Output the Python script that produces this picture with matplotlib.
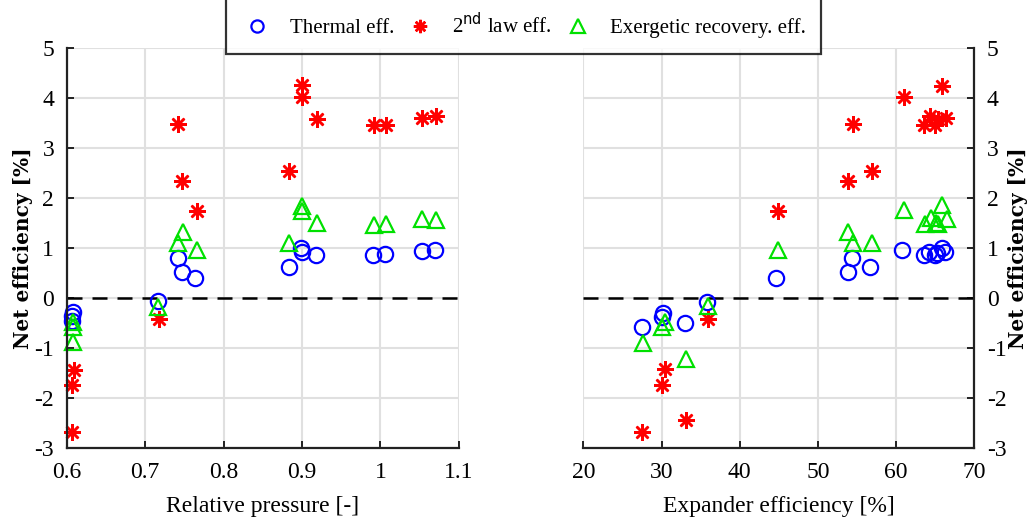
import numpy as np
import matplotlib
matplotlib.use('Agg')
import matplotlib.pyplot as plt

# Relative pressure panel
rp_thermal_x = [0.742, 0.747, 0.764, 0.883, 0.899, 0.900, 0.918, 0.991, 1.006, 1.053, 1.070,
                0.717, 0.608, 0.607, 0.607]
rp_thermal_y = [0.80, 0.53, 0.40, 0.63, 1.00, 0.93, 0.87, 0.87, 0.88, 0.95, 0.96,
                -0.05, -0.28, -0.35, -0.45]
rp_second_x = [0.742, 0.747, 0.766, 0.900, 0.900, 0.919, 0.884, 0.992, 1.007, 1.053, 1.071,
               0.718, 0.609, 0.607, 0.607]
rp_second_y = [3.48, 2.35, 1.75, 4.27, 4.03, 3.59, 2.55, 3.47, 3.47, 3.61, 3.65,
               -0.42, -1.43, -1.73, -2.67]
rp_exerg_x = [0.748, 0.742, 0.766, 0.900, 0.900, 0.919, 0.992, 1.007, 1.053, 1.071, 0.884,
              0.717, 0.608, 0.608, 0.608]
rp_exerg_y = [1.33, 1.10, 0.97, 1.85, 1.75, 1.51, 1.47, 1.48, 1.59, 1.57, 1.11,
              -0.17, -0.47, -0.57, -0.87]

# Expander efficiency panel
ee_thermal_x = [60.8, 63.5, 64.2, 65.0, 65.2, 65.8, 66.3, 54.4, 53.8, 56.7, 44.7,
                35.8, 30.2, 30.1, 33.0, 27.5]
ee_thermal_y = [0.97, 0.87, 0.93, 0.87, 0.90, 1.00, 0.93, 0.80, 0.52, 0.63, 0.41,
                -0.07, -0.29, -0.37, -0.50, -0.58]
ee_second_x = [65.9, 61.0, 54.5, 63.6, 64.3, 65.0, 65.3, 66.4, 53.9, 56.9, 44.9,
               35.9, 30.4, 30.1, 33.1, 27.5]
ee_second_y = [4.25, 4.03, 3.48, 3.47, 3.65, 3.47, 3.58, 3.61, 2.35, 2.55, 1.75,
               -0.41, -1.42, -1.73, -2.43, -2.67]
ee_exerg_x = [61.0, 65.9, 66.5, 63.7, 64.4, 65.1, 65.4, 53.9, 54.5, 56.9, 44.9,
              36.0, 30.4, 30.1, 27.6, 33.1]
ee_exerg_y = [1.77, 1.87, 1.58, 1.48, 1.60, 1.51, 1.48, 1.33, 1.10, 1.11, 0.97,
              -0.15, -0.47, -0.57, -0.89, -1.22]

y_ticks = [-3, -2, -1, 0, 1, 2, 3, 4, 5]
rp_ticks = [0.6, 0.7, 0.8, 0.9, 1.0, 1.1]
rp_ticklabels = ['0.6', '0.7', '0.8', '0.9', '1', '1.1']
ee_ticks = [20, 30, 40, 50, 60, 70]

blue = '#0000ff'
red = '#ff0000'
green = '#00e000'
star = (8, 2, 0)

plt.rcParams['font.family'] = 'Liberation Serif'
plt.rcParams['font.size'] = 15

fig = plt.figure(figsize=(10.35, 5.25), dpi=100)
ax1 = fig.add_axes([0.0644, 0.146, 0.379, 0.762])
ax2 = fig.add_axes([0.5636, 0.146, 0.3778, 0.762])


def style_axis(ax, side):
    ax.set_ylim(-3, 5)
    ax.set_yticks(y_ticks)
    ax.set_yticklabels([str(t) for t in y_ticks])
    ax.grid(True, color='#e0e0e0', lw=1.5)
    ax.set_axisbelow(True)
    ax.axhline(0, color='black', ls=(0, (6, 4)), lw=1.8, zorder=1)
    for s in ['top', 'left', 'right']:
        ax.spines[s].set_visible(False)
    ax.spines['bottom'].set_linewidth(1.6)
    ax.spines['bottom'].set_color('#222222')
    ax.spines[side].set_visible(True)
    ax.spines[side].set_linewidth(1.6)
    ax.spines[side].set_color('#222222')
    ax.tick_params(direction='in', length=5, width=1.2, labelsize=17)
    ax.tick_params(axis='x', pad=10)
    ax.tick_params(axis='y', pad=9)
    if side == 'right':
        ax.yaxis.tick_right()
        ax.yaxis.set_label_position('right')
    ax.set_ylabel('Net efficiency [%]', family='DejaVu Serif', fontweight='bold', fontsize=14.5,
                  labelpad=1)


def scatter_all(ax, tx, ty, sx, sy, ex, ey):
    l1, = ax.plot(tx, ty, ls='none', marker='o', ms=11, mfc='none', mec=blue, mew=1.6,
                  label='Thermal eff.', clip_on=False)
    l2, = ax.plot(sx, sy, ls='none', marker=star, ms=12, mec=red, mew=1.8,
                  label='2$^{\\mathrm{nd}}$ law eff.', clip_on=False)
    l3, = ax.plot(ex, ey, ls='none', marker='^', ms=12, mfc='none', mec=green, mew=1.6,
                  label='Exergetic recovery. eff.', clip_on=False)
    return [l1, l2, l3]


handles = scatter_all(ax1, rp_thermal_x, rp_thermal_y, rp_second_x, rp_second_y,
                      rp_exerg_x, rp_exerg_y)
style_axis(ax1, 'left')
ax1.set_xlim(0.6, 1.1)
ax1.set_xticks(rp_ticks)
ax1.set_xticklabels(rp_ticklabels)
ax1.set_xlabel('Relative pressure [-]', fontsize=17, labelpad=9)

scatter_all(ax2, ee_thermal_x, ee_thermal_y, ee_second_x, ee_second_y,
            ee_exerg_x, ee_exerg_y)
style_axis(ax2, 'right')
ax2.set_xlim(20, 70)
ax2.set_xticks(ee_ticks)
ax2.set_xlabel('Expander efficiency [%]', fontsize=17, labelpad=9)

leg = fig.legend(handles=handles, loc='lower center', bbox_to_anchor=(0.506, 1 - 54 / 525),
                 ncol=3, fontsize=15, frameon=True, fancybox=False, shadow=False,
                 edgecolor='black', borderpad=0.75, handlelength=1.5, handletextpad=0.8,
                 columnspacing=0.5, markerscale=0.8, borderaxespad=0)
leg.get_frame().set_linewidth(1.6)

fig.savefig('out.png', dpi=100)
